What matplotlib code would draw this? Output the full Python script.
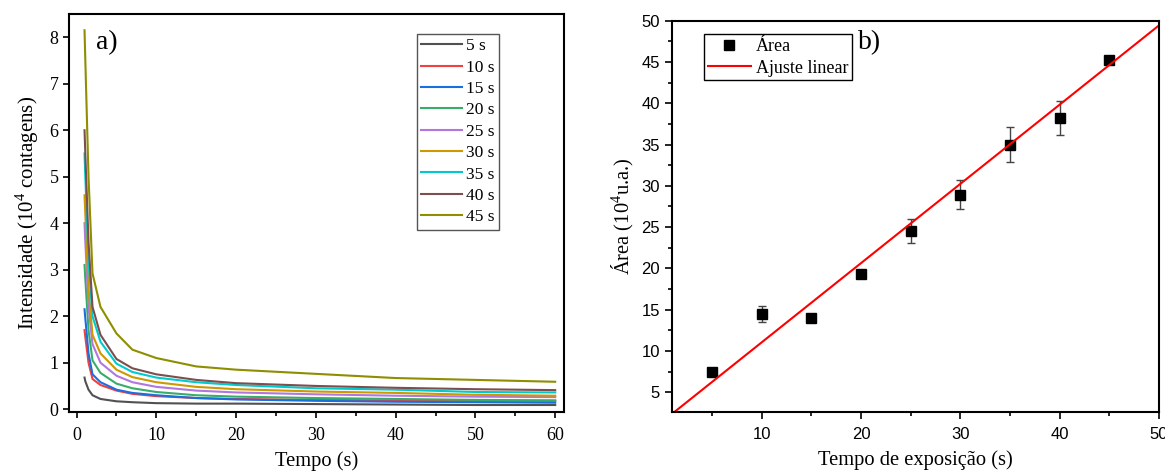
import matplotlib
matplotlib.use("Agg")
import matplotlib.pyplot as plt
from matplotlib.ticker import MultipleLocator

plt.rcParams['font.family'] = ['Liberation Serif', 'DejaVu Serif']
plt.rcParams['mathtext.fontset'] = 'custom'
plt.rcParams['mathtext.rm'] = 'Liberation Serif'

# a) intensity decay (x in s, y in 10^4 counts)
tempo = [1.0, 1.1, 1.5, 2.0, 3.0, 5.0, 7.0, 10.0, 15.0, 20.0, 30.0, 40.0, 50.0, 60.0]
labels = ['5 s', '10 s', '15 s', '20 s', '25 s', '30 s', '35 s', '40 s', '45 s']
i5 = [0.68, 0.60, 0.42, 0.30, 0.22, 0.17, 0.15, 0.13, 0.12, 0.12, 0.11, 0.10, 0.09, 0.09]
i10 = [1.70, 1.55, 1.00, 0.65, 0.52, 0.40, 0.33, 0.28, 0.24, 0.22, 0.20, 0.19, 0.18, 0.18]
i15 = [2.15, 1.95, 1.20, 0.75, 0.58, 0.42, 0.35, 0.30, 0.24, 0.21, 0.18, 0.16, 0.15, 0.14]
i20 = [3.10, 2.80, 1.70, 1.05, 0.78, 0.55, 0.45, 0.37, 0.30, 0.27, 0.24, 0.22, 0.20, 0.19]
i25 = [4.00, 3.60, 2.20, 1.40, 1.00, 0.72, 0.58, 0.48, 0.40, 0.36, 0.32, 0.29, 0.27, 0.26]
i30 = [4.60, 4.20, 2.60, 1.60, 1.20, 0.85, 0.69, 0.58, 0.48, 0.43, 0.38, 0.35, 0.31, 0.29]
i35 = [5.50, 5.00, 3.20, 2.00, 1.45, 0.98, 0.80, 0.68, 0.58, 0.52, 0.45, 0.42, 0.37, 0.36]
i40 = [6.00, 5.50, 3.60, 2.20, 1.60, 1.08, 0.88, 0.75, 0.63, 0.56, 0.50, 0.46, 0.43, 0.41]
i45 = [8.15, 7.50, 5.00, 2.92, 2.20, 1.63, 1.28, 1.10, 0.92, 0.85, 0.76, 0.67, 0.63, 0.59]
cores = ['#515151', '#F14040', '#1A6FDF', '#37AD6B', '#B177DE',
         '#CC9900', '#00CBCC', '#7D4E4E', '#8E8E00']

# b) area vs exposure time
exposicao = [5, 10, 15, 20, 25, 30, 35, 40, 45]
area = [7.4, 14.5, 14.0, 19.3, 24.5, 28.9, 35.0, 38.2, 45.3]
erro = [0.5, 1.0, 0.3, 0.4, 1.45, 1.75, 2.1, 2.1, 0.3]
fit_slope = 0.96
fit_intercept = 1.43
fit_x = [1.0, 50.0]

fig = plt.figure(figsize=(11.65, 4.71), dpi=100)
ax1 = fig.add_axes([0.0592, 0.1253, 0.4249, 0.845])
ax2 = fig.add_axes([0.5766, 0.1253, 0.4182, 0.8307])

series = [i5, i10, i15, i20, i25, i30, i35, i40, i45]
for y, lab, c in zip(series, labels, cores):
    ax1.plot(tempo, y, color=c, lw=1.5, label=lab)

ax1.set_xlim(-0.95, 61.1)
ax1.set_ylim(-0.06, 8.5)
ax1.xaxis.set_major_locator(MultipleLocator(10))
ax1.xaxis.set_minor_locator(MultipleLocator(5))
ax1.yaxis.set_major_locator(MultipleLocator(1))
ax1.tick_params(which='both', direction='out', labelsize=13, width=1.2)
ax1.tick_params(which='major', length=4)
ax1.tick_params(which='minor', length=3)
ax1.tick_params(axis='x', pad=7)
ax1.set_xlabel('Tempo (s)', fontsize=14.8, labelpad=5)
ax1.set_ylabel('Intensidade (10$^4$ contagens)', fontsize=15, labelpad=6)
ax1.text(0.055, 0.96, 'a)', transform=ax1.transAxes, fontsize=20, va='top', ha='left')
leg1 = ax1.legend(loc='upper left', bbox_to_anchor=(0.703, 0.95), borderaxespad=0,
                  fontsize=12.5, handlelength=2.35, handletextpad=0.25, labelspacing=0.3,
                  borderpad=0.25, fancybox=False, edgecolor='#555555', framealpha=1)
leg1.get_frame().set_linewidth(1.0)

ax2.errorbar(exposicao, area, yerr=erro, fmt='none', ecolor='#444444',
             elinewidth=1.0, capsize=3, capthick=1.0)
ax2.plot(exposicao, area, 's', color='black', ms=7, label='Área')
fit_y = [fit_slope * x + fit_intercept for x in fit_x]
ax2.plot(fit_x, fit_y, color='red', lw=1.5, label='Ajuste linear')
ax2.set_xlim(0.95, 50)
ax2.set_ylim(2.6, 50)
ax2.xaxis.set_major_locator(MultipleLocator(10))
ax2.xaxis.set_minor_locator(MultipleLocator(5))
ax2.yaxis.set_major_locator(MultipleLocator(5))
ax2.yaxis.set_minor_locator(MultipleLocator(2.5))
ax2.tick_params(which='both', direction='out', labelsize=12, width=1.2)
ax2.tick_params(which='major', length=5)
ax2.tick_params(which='minor', length=3)
ax2.tick_params(axis='x', pad=6)
for t in ax2.get_xticklabels() + ax2.get_yticklabels():
    t.set_fontfamily('Liberation Sans')
ax2.set_xlabel('Tempo de exposição (s)', fontsize=14.8, labelpad=6)
ax2.set_ylabel('Área (10$^4$u.a.)', fontsize=14.8, labelpad=4)
ax2.text(0.382, 0.975, 'b)', transform=ax2.transAxes, fontsize=20, va='top', ha='left')
leg2 = ax2.legend(loc='upper left', bbox_to_anchor=(0.066, 0.965), borderaxespad=0,
                  fontsize=13, handlelength=2.4, handletextpad=0.3, labelspacing=0.25,
                  borderpad=0.2, fancybox=False, edgecolor='black', framealpha=1)
leg2.get_frame().set_linewidth(1.0)

for ax in (ax1, ax2):
    for s in ax.spines.values():
        s.set_linewidth(1.5)

fig.savefig('out.png', dpi=100)
